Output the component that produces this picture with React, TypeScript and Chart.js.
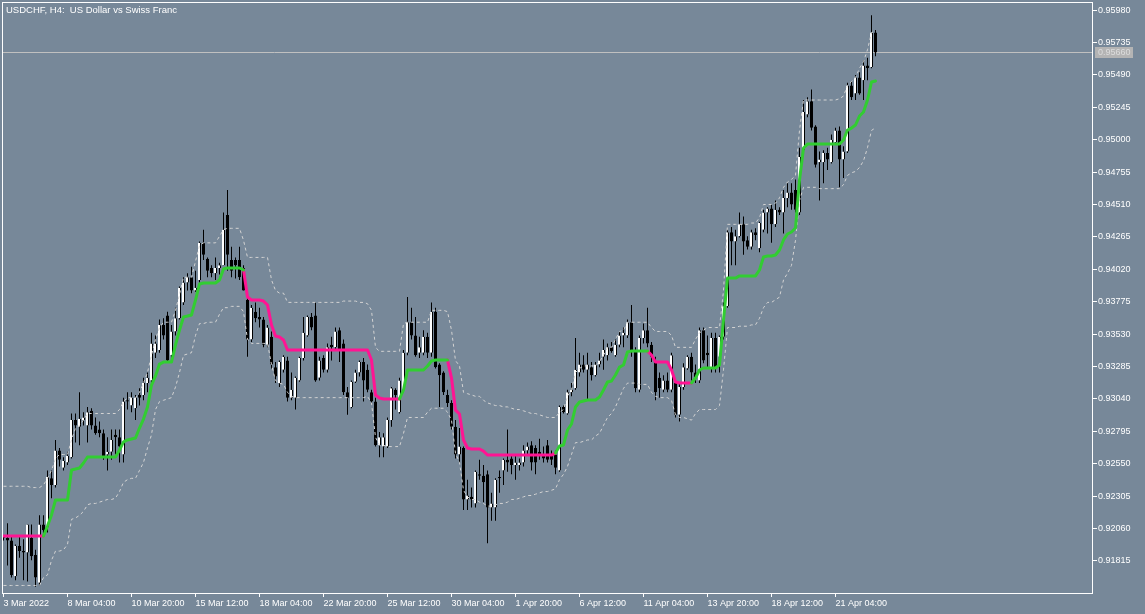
import React, { useEffect, useRef } from "react";
import { Chart, registerables } from "chart.js";

Chart.register(...registerables);

const titleText = "USDCHF, H4:  US Dollar vs Swiss Franc";

const xTickLabels = [
  "3 Mar 2022", "8 Mar 04:00", "10 Mar 20:00", "15 Mar 12:00", "18 Mar 04:00",
  "22 Mar 20:00", "25 Mar 12:00", "30 Mar 04:00", "1 Apr 20:00", "6 Apr 12:00",
  "11 Apr 04:00", "13 Apr 20:00", "18 Apr 12:00", "21 Apr 04:00",
];
const xTickBars = [0, 16, 32, 48, 64, 80, 96, 112, 128, 144, 160, 176, 192, 208];

const yTickValues = [
  0.91815, 0.9206, 0.92305, 0.9255, 0.92795, 0.9304, 0.93285, 0.9353, 0.93775,
  0.9402, 0.94265, 0.9451, 0.94755, 0.95, 0.95245, 0.9549, 0.95735, 0.9598,
];

const currentPrice = 0.9566;

const opens = [
  0.9200,0.9199,0.9197,0.9170,0.9193,0.9189,0.9188,0.9199,0.9186,0.9165,
  0.9209,0.9207,0.9244,0.9239,0.9265,0.9252,0.9256,0.9260,0.9288,0.9283,
  0.9288,0.9284,0.9295,0.9284,0.9281,0.9278,0.9262,0.9264,0.9277,0.9275,
  0.9262,0.9303,0.9299,0.9297,0.9307,0.9307,0.9316,0.9318,0.9339,0.9341,
  0.9360,0.9367,0.9337,0.9355,0.9365,0.9377,0.9392,0.9396,0.9386,0.9394,
  0.9422,0.9410,0.9403,0.9399,0.9403,0.9405,0.9443,0.9409,0.9409,0.9409,
  0.9403,0.9379,0.9349,0.9370,0.9366,0.9364,0.9345,0.9351,0.9328,0.9316,
  0.9326,0.9333,0.9305,0.9305,0.9318,0.9335,0.9352,0.9366,0.9367,0.9320,
  0.9335,0.9326,0.9345,0.9343,0.9356,0.9346,0.9309,0.9298,0.9317,0.9324,
  0.9332,0.9326,0.9309,0.9302,0.9269,0.9268,0.9268,0.9288,0.9311,0.9294,
  0.9311,0.9339,0.9362,0.9352,0.9339,0.9339,0.9351,0.9339,0.9370,0.9330,
  0.9324,0.9307,0.9301,0.9283,0.9262,0.9267,0.9228,0.9230,0.9225,0.9247,
  0.9246,0.9247,0.9222,0.9222,0.9245,0.9250,0.9258,0.9259,0.9254,0.9254,
  0.9256,0.9265,0.9269,0.9267,0.9264,0.9261,0.9269,0.9262,0.9262,0.9250,
  0.9298,0.9293,0.9309,0.9312,0.9324,0.9330,0.9326,0.9328,0.9322,0.9330,
  0.9336,0.9337,0.9343,0.9337,0.9345,0.9352,0.9352,0.9362,0.9340,0.9311,
  0.9350,0.9356,0.9345,0.9332,0.9320,0.9311,0.9318,0.9311,0.9316,0.9292,
  0.9313,0.9327,0.9336,0.9324,0.9318,0.9356,0.9339,0.9328,0.9350,0.9336,
  0.9351,0.9374,0.9430,0.9423,0.9427,0.9436,0.9424,0.9419,0.9430,0.9418,
  0.9432,0.9445,0.9448,0.9436,0.9447,0.9445,0.9456,0.9460,0.9462,0.9445,
  0.9492,0.9519,0.9529,0.9510,0.9483,0.9483,0.9490,0.9483,0.9498,0.9507,
  0.9485,0.9491,0.9541,0.9535,0.9547,0.9545,0.9556,0.9555,0.9581,
];

const highs = [
  0.9201,0.9210,0.9200,0.9194,0.9200,0.9198,0.9209,0.9209,0.9190,0.9216,
  0.9216,0.9250,0.9250,0.9273,0.9267,0.9260,0.9264,0.9293,0.9293,0.9309,
  0.9294,0.9298,0.9297,0.9290,0.9287,0.9281,0.9275,0.9281,0.9281,0.9281,
  0.9305,0.9309,0.9309,0.9307,0.9312,0.9320,0.9324,0.9354,0.9352,0.9364,
  0.9365,0.9370,0.9360,0.9373,0.9389,0.9396,0.9399,0.9404,0.9401,0.9423,
  0.9432,0.9411,0.9405,0.9411,0.9407,0.9445,0.9462,0.9419,0.9411,0.9419,
  0.9405,0.9386,0.9375,0.9377,0.9373,0.9366,0.9360,0.9355,0.9332,0.9333,
  0.9337,0.9336,0.9324,0.9321,0.9336,0.9366,0.9367,0.9369,0.9377,0.9336,
  0.9337,0.9346,0.9351,0.9358,0.9358,0.9349,0.9313,0.9318,0.9326,0.9333,
  0.9335,0.9330,0.9311,0.9305,0.9279,0.9278,0.9290,0.9313,0.9312,0.9320,
  0.9341,0.9381,0.9373,0.9366,0.9351,0.9356,0.9354,0.9377,0.9373,0.9331,
  0.9325,0.9311,0.9303,0.9288,0.9282,0.9268,0.9243,0.9237,0.9250,0.9258,
  0.9254,0.9250,0.9233,0.9244,0.9250,0.9259,0.9281,0.9262,0.9262,0.9259,
  0.9269,0.9271,0.9272,0.9269,0.9274,0.9268,0.9273,0.9265,0.9265,0.9299,
  0.9299,0.9311,0.9316,0.9350,0.9339,0.9337,0.9339,0.9332,0.9332,0.9339,
  0.9349,0.9346,0.9347,0.9349,0.9355,0.9358,0.9364,0.9375,0.9343,0.9352,
  0.9361,0.9373,0.9347,0.9336,0.9324,0.9322,0.9324,0.9339,0.9317,0.9316,
  0.9331,0.9337,0.9339,0.9330,0.9358,0.9358,0.9352,0.9354,0.9354,0.9352,
  0.9377,0.9432,0.9434,0.9432,0.9445,0.9442,0.9427,0.9432,0.9433,0.9438,
  0.9447,0.9449,0.9451,0.9454,0.9449,0.9462,0.9467,0.9467,0.9470,0.9494,
  0.9530,0.9532,0.9538,0.9511,0.9491,0.9492,0.9494,0.9504,0.9509,0.9510,
  0.9495,0.9543,0.9544,0.9549,0.9551,0.9560,0.9562,0.9594,0.9583,
];

const lows = [
  0.9197,0.9178,0.9169,0.9167,0.9184,0.9167,0.9166,0.9182,0.9162,0.9163,
  0.9200,0.9203,0.9229,0.9237,0.9253,0.9250,0.9254,0.9259,0.9271,0.9269,
  0.9284,0.9271,0.9281,0.9277,0.9275,0.9258,0.9250,0.9258,0.9262,0.9256,
  0.9256,0.9296,0.9294,0.9288,0.9299,0.9303,0.9309,0.9315,0.9335,0.9339,
  0.9349,0.9332,0.9335,0.9352,0.9364,0.9375,0.9386,0.9384,0.9385,0.9392,
  0.9409,0.9396,0.9396,0.9394,0.9398,0.9405,0.9401,0.9396,0.9395,0.9394,
  0.9386,0.9336,0.9347,0.9362,0.9358,0.9343,0.9343,0.9327,0.9316,0.9313,
  0.9324,0.9302,0.9303,0.9296,0.9317,0.9333,0.9351,0.9356,0.9317,0.9318,
  0.9324,0.9324,0.9333,0.9341,0.9332,0.9307,0.9292,0.9297,0.9316,0.9321,
  0.9302,0.9309,0.9301,0.9268,0.9260,0.9260,0.9267,0.9283,0.9296,0.9293,
  0.9309,0.9337,0.9349,0.9336,0.9335,0.9337,0.9335,0.9336,0.9327,0.9298,
  0.9307,0.9298,0.9281,0.9259,0.9256,0.9220,0.9220,0.9222,0.9222,0.9243,
  0.9226,0.9195,0.9212,0.9212,0.9233,0.9239,0.9249,0.9247,0.9243,0.9250,
  0.9253,0.9262,0.9250,0.9247,0.9258,0.9256,0.9256,0.9254,0.9247,0.9249,
  0.9293,0.9292,0.9306,0.9311,0.9321,0.9324,0.9303,0.9318,0.9321,0.9328,
  0.9326,0.9333,0.9339,0.9336,0.9343,0.9343,0.9350,0.9336,0.9309,0.9309,
  0.9346,0.9343,0.9332,0.9303,0.9305,0.9309,0.9309,0.9309,0.9290,0.9287,
  0.9311,0.9326,0.9318,0.9316,0.9316,0.9331,0.9328,0.9324,0.9324,0.9324,
  0.9349,0.9373,0.9405,0.9405,0.9426,0.9413,0.9417,0.9417,0.9424,0.9415,
  0.9430,0.9429,0.9422,0.9434,0.9443,0.9429,0.9449,0.9447,0.9445,0.9443,
  0.9491,0.9517,0.9507,0.9479,0.9454,0.9467,0.9477,0.9482,0.9497,0.9464,
  0.9471,0.9490,0.9530,0.9530,0.9534,0.9530,0.9545,0.9554,0.9563,
];

const closes = [
  0.9199,0.9197,0.9171,0.9193,0.9189,0.9188,0.9209,0.9185,0.9169,0.9209,
  0.9205,0.9245,0.9239,0.9265,0.9258,0.9257,0.9261,0.9288,0.9284,0.9289,
  0.9290,0.9294,0.9284,0.9278,0.9278,0.9260,0.9264,0.9273,0.9275,0.9268,
  0.9302,0.9302,0.9305,0.9305,0.9305,0.9316,0.9320,0.9346,0.9346,0.9360,
  0.9352,0.9333,0.9355,0.9365,0.9388,0.9392,0.9396,0.9386,0.9388,0.9422,
  0.9413,0.9401,0.9399,0.9403,0.9405,0.9432,0.9413,0.9401,0.9405,0.9396,
  0.9386,0.9349,0.9373,0.9365,0.9364,0.9345,0.9358,0.9330,0.9321,0.9332,
  0.9336,0.9305,0.9311,0.9320,0.9335,0.9354,0.9366,0.9358,0.9318,0.9333,
  0.9326,0.9343,0.9343,0.9355,0.9341,0.9309,0.9305,0.9317,0.9324,0.9332,
  0.9318,0.9311,0.9302,0.9269,0.9275,0.9275,0.9288,0.9312,0.9307,0.9318,
  0.9339,0.9362,0.9352,0.9337,0.9343,0.9351,0.9339,0.9370,0.9328,0.9322,
  0.9309,0.9301,0.9283,0.9262,0.9268,0.9228,0.9231,0.9228,0.9249,0.9246,
  0.9241,0.9222,0.9225,0.9243,0.9244,0.9258,0.9256,0.9254,0.9256,0.9256,
  0.9265,0.9268,0.9256,0.9256,0.9262,0.9259,0.9258,0.9258,0.9252,0.9298,
  0.9294,0.9309,0.9311,0.9326,0.9330,0.9326,0.9330,0.9322,0.9330,0.9333,
  0.9341,0.9343,0.9340,0.9345,0.9352,0.9354,0.9362,0.9341,0.9312,0.9350,
  0.9356,0.9346,0.9336,0.9309,0.9312,0.9318,0.9311,0.9337,0.9292,0.9313,
  0.9328,0.9336,0.9324,0.9320,0.9356,0.9333,0.9337,0.9350,0.9328,0.9351,
  0.9374,0.9430,0.9423,0.9427,0.9436,0.9423,0.9419,0.9430,0.9428,0.9437,
  0.9445,0.9448,0.9436,0.9447,0.9445,0.9456,0.9460,0.9451,0.9447,0.9487,
  0.9521,0.9529,0.9509,0.9481,0.9485,0.9490,0.9485,0.9500,0.9507,0.9485,
  0.9491,0.9541,0.9532,0.9547,0.9535,0.9556,0.9554,0.9581,0.9566,
];

const trendLine = [
  0.92004,0.92004,0.92004,0.92004,0.92004,0.92004,0.92004,0.92004,0.92004,0.92004,
  0.92004,0.92079,0.92163,0.92276,0.92276,0.92276,0.92276,0.92503,0.9251,0.92518,
  0.92556,0.92601,0.92601,0.92601,0.92601,0.92601,0.92601,0.92601,0.92601,0.92654,
  0.92715,0.9273,0.92737,0.92745,0.9282,0.92888,0.92979,0.93145,0.93214,0.93304,
  0.93319,0.93319,0.93319,0.93448,0.93561,0.9366,0.93667,0.93675,0.93788,0.93909,
  0.93917,0.93917,0.93917,0.93917,0.93939,0.94022,0.9403,0.9403,0.9403,0.9403,
  0.94015,0.93811,0.93788,0.93788,0.93788,0.9378,0.9375,0.93599,0.93516,0.93508,
  0.93486,0.9341,0.9341,0.9341,0.9341,0.9341,0.9341,0.9341,0.9341,0.9341,
  0.9341,0.9341,0.9341,0.9341,0.9341,0.9341,0.9341,0.9341,0.9341,0.9341,
  0.9341,0.9341,0.93334,0.9307,0.93047,0.9304,0.9304,0.9304,0.9304,0.9304,
  0.93108,0.93259,0.93259,0.93259,0.93259,0.93259,0.93289,0.93327,0.93334,0.93334,
  0.93334,0.93334,0.93198,0.92956,0.92926,0.9273,0.92669,0.92662,0.92662,0.92662,
  0.92646,0.92616,0.92616,0.92616,0.92616,0.92616,0.92616,0.92616,0.92616,0.92616,
  0.92616,0.92616,0.92616,0.92616,0.92616,0.92616,0.92616,0.92616,0.92631,0.92684,
  0.92692,0.92805,0.92851,0.92979,0.93017,0.93025,0.93032,0.93032,0.93032,0.93055,
  0.93108,0.93168,0.93176,0.93221,0.93281,0.93297,0.93395,0.93402,0.93402,0.93402,
  0.93402,0.93402,0.93372,0.93319,0.93319,0.93319,0.93319,0.93259,0.93168,0.93161,
  0.93161,0.93161,0.93161,0.93198,0.93259,0.93274,0.93274,0.93274,0.93274,0.93297,
  0.93637,0.93954,0.93954,0.93954,0.9397,0.9397,0.9397,0.9397,0.9397,0.94015,
  0.94113,0.94121,0.94121,0.94128,0.94166,0.94242,0.94287,0.94302,0.94332,0.94695,
  0.94937,0.94967,0.94967,0.94967,0.94967,0.94967,0.94967,0.94967,0.94967,0.94967,
  0.94998,0.95073,0.95088,0.95111,0.95179,0.95209,0.953,0.95436,0.95444,
];

const upperBand = [
  0.9238,0.9238,0.9238,0.9238,0.9238,0.9238,0.9238,0.9237,0.9237,0.9237,
  0.9239,0.9244,0.9250,0.9259,0.9262,0.9262,0.9262,0.9273,0.9282,0.9284,
  0.9288,0.9293,0.9293,0.9293,0.9293,0.9293,0.9293,0.9293,0.9293,0.9296,
  0.9302,0.9305,0.9305,0.9305,0.9309,0.9316,0.9324,0.9337,0.9349,0.9358,
  0.9362,0.9362,0.9362,0.9371,0.9383,0.9396,0.9396,0.9396,0.9408,0.9420,
  0.9422,0.9422,0.9422,0.9422,0.9427,0.9432,0.9433,0.9433,0.9433,0.9433,
  0.9424,0.9411,0.9411,0.9411,0.9411,0.9411,0.9411,0.9394,0.9386,0.9384,
  0.9384,0.9377,0.9377,0.9377,0.9377,0.9377,0.9377,0.9377,0.9377,0.9377,
  0.9377,0.9377,0.9377,0.9377,0.9377,0.9378,0.9378,0.9378,0.9378,0.9377,
  0.9377,0.9376,0.9371,0.9343,0.9340,0.9340,0.9340,0.9340,0.9340,0.9340,
  0.9361,0.9362,0.9362,0.9362,0.9362,0.9362,0.9362,0.9371,0.9371,0.9371,
  0.9371,0.9370,0.9356,0.9333,0.9329,0.9309,0.9308,0.9307,0.9306,0.9306,
  0.9303,0.9301,0.9300,0.9299,0.9299,0.9298,0.9298,0.9297,0.9296,0.9296,
  0.9295,0.9294,0.9293,0.9293,0.9292,0.9291,0.9290,0.9290,0.9290,0.9294,
  0.9296,0.9306,0.9311,0.9324,0.9327,0.9329,0.9329,0.9329,0.9329,0.9332,
  0.9337,0.9343,0.9343,0.9349,0.9355,0.9356,0.9362,0.9362,0.9362,0.9362,
  0.9362,0.9362,0.9358,0.9355,0.9355,0.9355,0.9355,0.9352,0.9343,0.9343,
  0.9343,0.9343,0.9343,0.9349,0.9354,0.9356,0.9358,0.9358,0.9358,0.9358,
  0.9386,0.9436,0.9436,0.9436,0.9436,0.9436,0.9436,0.9437,0.9437,0.9441,
  0.9451,0.9451,0.9451,0.9452,0.9456,0.9464,0.9468,0.9470,0.9473,0.9507,
  0.9530,0.9530,0.9530,0.9530,0.9530,0.9530,0.9530,0.9530,0.9530,0.9531,
  0.9533,0.9541,0.9544,0.9547,0.9554,0.9559,0.9568,0.9581,0.9582,
];

const lowerBand = [
  0.9163,0.9163,0.9163,0.9163,0.9163,0.9163,0.9163,0.9163,0.9163,0.9163,
  0.9169,0.9171,0.9182,0.9189,0.9189,0.9190,0.9194,0.9213,0.9214,0.9216,
  0.9219,0.9224,0.9225,0.9225,0.9226,0.9227,0.9228,0.9228,0.9229,0.9234,
  0.9241,0.9243,0.9244,0.9244,0.9250,0.9256,0.9267,0.9277,0.9296,0.9302,
  0.9303,0.9304,0.9305,0.9313,0.9324,0.9337,0.9338,0.9339,0.9352,0.9361,
  0.9361,0.9362,0.9362,0.9362,0.9368,0.9373,0.9373,0.9374,0.9374,0.9374,
  0.9370,0.9349,0.9346,0.9346,0.9346,0.9346,0.9346,0.9330,0.9318,0.9316,
  0.9315,0.9309,0.9306,0.9305,0.9305,0.9305,0.9305,0.9305,0.9305,0.9305,
  0.9305,0.9305,0.9305,0.9305,0.9305,0.9305,0.9305,0.9305,0.9305,0.9305,
  0.9305,0.9306,0.9301,0.9275,0.9269,0.9269,0.9268,0.9268,0.9268,0.9268,
  0.9278,0.9290,0.9290,0.9290,0.9290,0.9290,0.9294,0.9297,0.9297,0.9297,
  0.9297,0.9294,0.9288,0.9263,0.9256,0.9235,0.9230,0.9228,0.9228,0.9226,
  0.9225,0.9223,0.9223,0.9224,0.9225,0.9225,0.9226,0.9228,0.9228,0.9229,
  0.9230,0.9231,0.9231,0.9232,0.9233,0.9234,0.9234,0.9235,0.9236,0.9243,
  0.9247,0.9253,0.9262,0.9271,0.9271,0.9272,0.9273,0.9273,0.9276,0.9278,
  0.9284,0.9290,0.9293,0.9298,0.9305,0.9312,0.9316,0.9316,0.9316,0.9315,
  0.9315,0.9315,0.9309,0.9306,0.9305,0.9305,0.9305,0.9303,0.9292,0.9290,
  0.9290,0.9289,0.9288,0.9293,0.9296,0.9296,0.9296,0.9296,0.9296,0.9299,
  0.9326,0.9358,0.9358,0.9358,0.9359,0.9359,0.9359,0.9360,0.9360,0.9365,
  0.9373,0.9377,0.9377,0.9379,0.9381,0.9394,0.9399,0.9405,0.9424,0.9454,
  0.9464,0.9464,0.9464,0.9464,0.9463,0.9463,0.9463,0.9463,0.9463,0.9463,
  0.9466,0.9473,0.9475,0.9476,0.9479,0.9484,0.9494,0.9507,0.9509,
];

// bar-index ranges of the trend line colouring
const greenRanges = [[10, 60], [99, 111], [138, 161], [172, 218]];
const pinkRanges = [[0, 10], [60, 99], [111, 138], [161, 172]];

const BG = "#778899";
const FONT = "Liberation Sans, Arial, sans-serif";

export default function App() {
  const canvasRef = useRef<HTMLCanvasElement | null>(null);

  useEffect(() => {
    const canvas = canvasRef.current;
    if (!canvas) return;
    const idx = closes.map((_, i) => i);
    const inRanges = (ranges: number[][], i: number) =>
      ranges.some(([a, b]) => i >= a && i <= b);

    const mtPlugin = {
      id: "mtFrame",
      beforeDraw(chart: any) {
        const ctx = chart.ctx;
        ctx.save();
        ctx.fillStyle = BG;
        ctx.fillRect(0, 0, chart.width, chart.height);
        ctx.restore();
      },
      beforeDatasetsDraw(chart: any) {
        const ctx = chart.ctx;
        const ca = chart.chartArea;
        const y = Math.round(chart.scales.y.getPixelForValue(currentPrice)) + 0.5;
        ctx.save();
        ctx.strokeStyle = "#c0c0c0";
        ctx.lineWidth = 1;
        ctx.beginPath();
        ctx.moveTo(ca.left, y);
        ctx.lineTo(ca.right, y);
        ctx.stroke();
        ctx.restore();
      },
      afterDraw(chart: any) {
        const ctx = chart.ctx;
        const ca = chart.chartArea;
        ctx.save();
        ctx.strokeStyle = "#ffffff";
        ctx.lineWidth = 1;
        ctx.strokeRect(ca.left + 0.5, ca.top + 0.5, ca.right - ca.left, ca.bottom - ca.top);
        ctx.fillStyle = "#ffffff";
        ctx.font = `9.5px ${FONT}`;
        ctx.textBaseline = "alphabetic";
        ctx.textAlign = "left";
        ctx.fillText(titleText, 6, 13);
        const y = Math.round(chart.scales.y.getPixelForValue(currentPrice));
        ctx.fillStyle = "#b4b4b4";
        ctx.fillRect(ca.right + 3, y - 5, 38, 11);
        ctx.fillStyle = "#dcdcdc";
        ctx.font = `9px ${FONT}`;
        ctx.textBaseline = "middle";
        ctx.fillText(currentPrice.toFixed(5), ca.right + 6, y + 0.5);
        ctx.restore();
      },
    };

    const chart = new Chart(canvas, {
      type: "bar",
      data: {
        datasets: [
          {
            type: "line",
            label: "up",
            data: idx.map((i) => ({ x: i, y: inRanges(greenRanges, i) ? trendLine[i] : null })),
            borderColor: "#32cd32",
            borderWidth: 3,
            pointRadius: 0,
            borderJoinStyle: "round",
            borderCapStyle: "round",
            spanGaps: false,
            order: 1,
          } as any,
          {
            type: "line",
            label: "down",
            data: idx.map((i) => ({ x: i, y: inRanges(pinkRanges, i) ? trendLine[i] : null })),
            borderColor: "#ff1493",
            borderWidth: 3,
            pointRadius: 0,
            borderJoinStyle: "round",
            borderCapStyle: "round",
            spanGaps: false,
            order: 1,
          } as any,
          {
            type: "line",
            label: "upper",
            data: idx.map((i) => ({ x: i, y: upperBand[i] })),
            borderColor: "#d3d3d3",
            borderWidth: 1,
            borderDash: [3, 3],
            pointRadius: 0,
            order: 3,
          } as any,
          {
            type: "line",
            label: "lower",
            data: idx.map((i) => ({ x: i, y: lowerBand[i] })),
            borderColor: "#d3d3d3",
            borderWidth: 1,
            borderDash: [3, 3],
            pointRadius: 0,
            order: 3,
          } as any,
          {
            type: "bar",
            label: "bodies",
            data: idx.map((i) => ({ x: i, y: [opens[i], closes[i]] })),
            backgroundColor: idx.map((i) => (closes[i] >= opens[i] ? "#ffffff" : "#000000")),
            borderColor: "#000000",
            borderWidth: { top: 0, bottom: 0, left: 0, right: 1 },
            borderSkipped: false,
            grouped: false,
            maxBarThickness: 3,
            barPercentage: 1,
            categoryPercentage: 1,
            minBarLength: 1,
            inflateAmount: 0,
            order: 4,
          } as any,
          {
            type: "bar",
            label: "wicks",
            data: idx.map((i) => ({ x: i, y: [lows[i], highs[i]] })),
            backgroundColor: "#000000",
            borderWidth: 0,
            grouped: false,
            maxBarThickness: 1,
            barPercentage: 1,
            categoryPercentage: 1,
            inflateAmount: 0,
            order: 5,
          } as any,
        ],
      },
      options: {
        responsive: false,
        maintainAspectRatio: false,
        devicePixelRatio: 1,
        animation: false,
        events: [],
        layout: { padding: { left: 2, top: 2, right: 0, bottom: 0 }, autoPadding: false },
        plugins: {
          legend: { display: false },
          tooltip: { enabled: false },
          title: { display: false },
        },
        scales: {
          x: {
            type: "linear",
            position: "bottom",
            min: -0.375,
            max: 272.125,
            offset: false,
            afterBuildTicks: (s: any) => {
              s.ticks = xTickBars.map((v) => ({ value: v }));
            },
            afterFit: (s: any) => {
              s.height = 21;
              s.paddingLeft = 0;
              s.paddingRight = 0;
              s.paddingTop = 0;
              s.paddingBottom = 0;
            },
            grid: {
              display: true,
              drawOnChartArea: false,
              drawTicks: true,
              tickLength: 4,
              color: "#ffffff",
              offset: false,
            },
            border: { display: false },
            ticks: {
              color: "#ffffff",
              font: { family: FONT, size: 9 },
              padding: 1,
              autoSkip: false,
              maxRotation: 0,
              minRotation: 0,
              align: "start",
              callback: (_v: any, i: number) => xTickLabels[i],
            },
          },
          y: {
            type: "linear",
            position: "right",
            min: 0.91573,
            max: 0.96041,
            afterBuildTicks: (s: any) => {
              s.ticks = yTickValues.map((v) => ({ value: v }));
            },
            afterFit: (s: any) => {
              s.width = 53;
              s.paddingTop = 0;
              s.paddingBottom = 0;
              s.paddingLeft = 0;
              s.paddingRight = 0;
            },
            grid: {
              display: true,
              drawOnChartArea: false,
              drawTicks: true,
              tickLength: 5,
              color: "#ffffff",
            },
            border: { display: false },
            ticks: {
              color: "#ffffff",
              font: { family: FONT, size: 9 },
              padding: 1,
              callback: (v: any) => Number(v).toFixed(5),
            },
          },
        },
      } as any,
      plugins: [mtPlugin as any],
    });

    return () => chart.destroy();
  }, []);

  return (
    <div style={{ position: "fixed", left: 0, top: 0, width: 1145, height: 614, background: BG }}>
      <canvas ref={canvasRef} width={1145} height={614} style={{ display: "block", width: 1145, height: 614 }} />
    </div>
  );
}
